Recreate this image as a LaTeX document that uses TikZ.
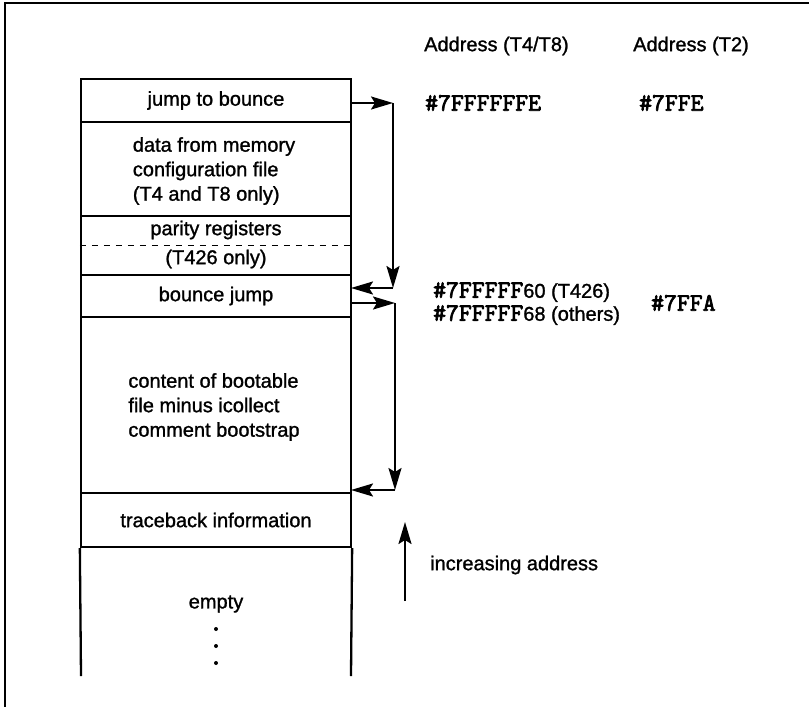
\documentclass[tikz,border=0pt]{standalone}
\usepackage{fontspec}
\setmainfont{Liberation Sans}[FakeBold=1.2]
\newfontfamily\hexfont{Latin Modern Mono}[FakeBold=3]
\usetikzlibrary{arrows.meta}
\begin{document}
\begin{tikzpicture}[x=1pt,y=-1pt,
  every node/.style={font=\fontsize{20}{24.5}\selectfont, inner sep=0pt},
  memrow/.style={draw, line width=2.3pt, minimum width=270pt, align=center},
  lbl/.style={anchor=west},
  hex/.style={font=\fontsize{25}{24}\selectfont\hexfont},
  conn/.style={line width=2.3pt, -{Stealth[length=22pt,width=13pt,inset=4pt]}},
  plain/.style={line width=2.3pt}]
\path[use as bounding box] (0,0) rectangle (809,707);
\clip (0,0) rectangle (809,707);
% outer frame (continues beyond the right and bottom edges)
\draw[line width=2.3pt] (5,3) rectangle (840,740);
% memory rows
\node[memrow, minimum height=43pt] (b1) at (216,100.5) {jump to bounce};
\node[memrow, minimum height=94pt] (b2) at (216,169) {};
\node[align=left] (t2) at (214,171) {data from memory\\configuration file\\(T4 and T8 only)};
\node[memrow, minimum height=59pt] (b3) at (216,245.5) {};
\draw[line width=1.6pt, dash pattern=on 6pt off 6pt] (b3.west) -- (b3.east);
\node[fill=white, inner xsep=0pt, inner ysep=0pt] (t3a) at (216,230) {parity registers};
\node (t3b) at (216,259) {(T426 only)};
\node[memrow, minimum height=42pt] (b4) at (216,296) {bounce jump};
\node[memrow, minimum height=176pt] (b5) at (216,405) {};
\node[align=left] (t5) at (214,407) {content of bootable\\file minus icollect\\comment bootstrap};
\node[memrow, minimum height=54pt] (b6) at (216,520) {traceback information};
% empty region
\coordinate (eL) at (81,676);
\coordinate (eR) at (351,676);
\draw[plain] (b6.south west) -- (eL);
\draw[plain] (b6.south east) -- (eR);
\node (empty) at (216,604) {empty};
\node[circle, fill, minimum size=4pt] (d1) at (216,629) {};
\node[circle, fill, minimum size=4pt] (d2) at (216,646) {};
\node[circle, fill, minimum size=4pt] (d3) at (216,663) {};
% connectors
\coordinate (a1s) at (351,103);
\coordinate (a1c) at (393,103);
\coordinate (a1d) at (393,288);
\coordinate (a1e) at (351,288);
\draw[conn] (a1s) -- (a1c);
\draw[conn] (a1c) -- (a1d);
\draw[conn] (a1d) -- (a1e);
\coordinate (a2s) at (351,303);
\coordinate (a2c) at (395,303);
\coordinate (a2d) at (395,490);
\coordinate (a2e) at (351,490);
\draw[conn] (a2s) -- (a2c);
\draw[conn] (a2c) -- (a2d);
\draw[conn] (a2d) -- (a2e);
% increasing address
\coordinate (incB) at (405,601);
\coordinate (incT) at (405,522);
\draw[conn] (incB) -- (incT);
\node[lbl] (inc) at (430,565) {increasing address};
% address labels
\node[lbl] (h1) at (424,46) {Address (T4/T8)};
\node[lbl] (h2) at (633,46) {Address (T2)};
\node[lbl, hex] (x1) at (425,103) {\#7FFFFFFE};
\node[lbl, hex] (x2) at (639,103) {\#7FFE};
\node[lbl] (x3) at (433,292) {{\hexfont\fontsize{25}{24}\selectfont\#7FFFFF}60 (T426)};
\node[lbl] (x4) at (433,315) {{\hexfont\fontsize{25}{24}\selectfont\#7FFFFF}68 (others)};
\node[lbl, hex] (x5) at (651,303) {\#7FFA};
\end{tikzpicture}
\end{document}
